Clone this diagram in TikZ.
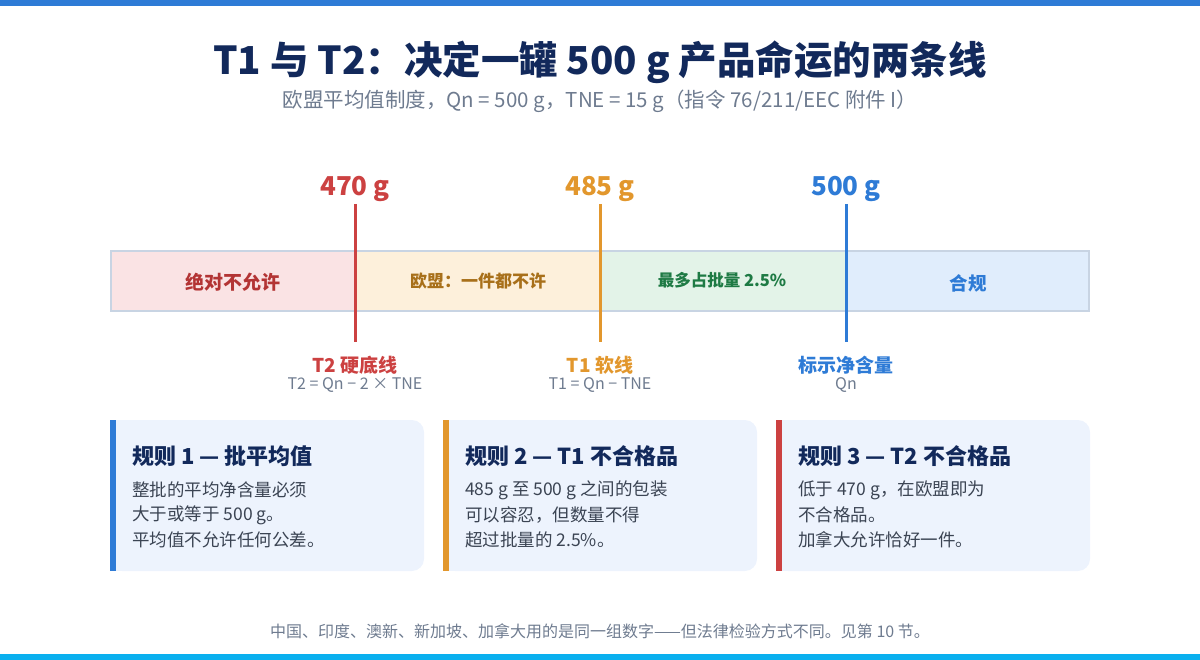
\documentclass[tikz,border=0pt]{standalone}
\usepackage{fontspec}
\setmainfont{Noto Sans CJK SC}
\usetikzlibrary{positioning}

\definecolor{navy}{HTML}{12295B}
\definecolor{subgray}{HTML}{6E7B8F}
\definecolor{bodygray}{HTML}{3B4453}
\definecolor{tred}{HTML}{CC4141}
\definecolor{torange}{HTML}{E2972D}
\definecolor{tblue}{HTML}{2E7BD6}
\definecolor{tcyan}{HTML}{0AB0EF}
\definecolor{redbg}{HTML}{FAE3E4}
\definecolor{orangebg}{HTML}{FDF0DB}
\definecolor{greenbg}{HTML}{E3F3E8}
\definecolor{bluebg}{HTML}{E0EDFC}
\definecolor{bandline}{HTML}{C8D4E3}
\definecolor{cardbg}{HTML}{EDF3FD}
\definecolor{reddark}{HTML}{B33434}
\definecolor{orangedark}{HTML}{A8701A}
\definecolor{greendark}{HTML}{1E7A44}

\newcommand{\fs}[1]{\fontsize{#1}{#1}\selectfont}

\tikzset{
  valuelabel/.style={font=\bfseries\fs{26}},
  marker/.style={line width=3pt},
  zonetext/.style={font=\bfseries\fs{17}},
  linename/.style={font=\bfseries\fs{19}},
  lineeq/.style={font=\fs{16}, text=subgray},
  cardtitle/.style={font=\bfseries\fs{22}, text=navy, anchor=west, inner xsep=0pt},
  cardbody/.style={font=\fs{17.5}, text=bodygray, anchor=west, inner xsep=0pt}
}

\begin{document}
\begin{tikzpicture}[x=1pt,y=-1pt]
\useasboundingbox (0,0) rectangle (1200,660);
\fill[tblue] (0,0) rectangle (1200,6);
\fill[tcyan] (0,654) rectangle (1200,660);

% title
\node[font=\bfseries\fs{38.5}, text=navy] (title) at (600,62) {T1 与 T2：决定一罐 500 g 产品命运的两条线};
\node[font=\fs{20.5}, text=subgray] (subtitle) at (600,101) {欧盟平均值制度，Qn = 500 g，TNE = 15 g（指令 76/211/EEC 附件 I）};

% band
\fill[redbg] (111,251) rectangle (355,311);
\fill[orangebg] (355,251) rectangle (600,311);
\fill[greenbg] (600,251) rectangle (846,311);
\fill[bluebg] (846,251) rectangle (1089,311);
\draw[bandline, line width=1.5pt] (111,251) rectangle (1089,311);

\node[zonetext, font=\bfseries\fs{19}, text=reddark] (zone1) at (233,282) {绝对不允许};
\node[zonetext, text=orangedark] (zone2) at (478,281) {欧盟：一件都不许};
\node[zonetext, font=\bfseries\fs{16.5}, text=greendark] (zone3) at (722,280) {最多占批量 2.5\%};
\node[zonetext, font=\bfseries\fs{18.5}, text=tblue] (zone4) at (968,283) {合规};

% markers
\foreach \x/\val/\col/\name/\eq/\id in {
  355/470 g/tred/T2 硬底线/T2 = Qn − 2 × TNE/t2,
  600/485 g/torange/T1 软线/T1 = Qn − TNE/t1,
  846/500 g/tblue/标示净含量/Qn/qn}{
  \node[valuelabel, text=\col] (\id val) at (\x,189) {\val};
  \coordinate (\id top) at (\x,204);
  \coordinate (\id bot) at (\x,342);
  \draw[marker, \col] (\id top) -- (\id bot);
  \node[linename, text=\col] (\id name) at (\x,365) {\name};
  \node[lineeq] (\id eq) at (\x,385) {\eq};
}

% cards
\foreach \x/\col/\id in {110/tblue/r1, 443/torange/r2, 776/tred/r3}{
  \fill[cardbg, rounded corners=12pt] (\x,420) rectangle (\x+314,571);
  \fill[cardbg] (\x,420) rectangle (\x+20,571);
  \fill[\col] (\x,420) rectangle (\x+6,571);
}

\node[cardtitle] (r1title) at (132,456) {规则 1 — 批平均值};
\node[cardbody] (r1a) at (132,490) {整批的平均净含量必须};
\node[cardbody] (r1b) at (132,515) {大于或等于 500 g。};
\node[cardbody] (r1c) at (132,540) {平均值不允许任何公差。};

\node[cardtitle] (r2title) at (465,456) {规则 2 — T1 不合格品};
\node[cardbody] (r2a) at (465,490) {485 g 至 500 g 之间的包装};
\node[cardbody] (r2b) at (465,515) {可以容忍，但数量不得};
\node[cardbody] (r2c) at (465,540) {超过批量的 2.5\%。};

\node[cardtitle] (r3title) at (798,456) {规则 3 — T2 不合格品};
\node[cardbody] (r3a) at (798,490) {低于 470 g，在欧盟即为};
\node[cardbody] (r3b) at (798,515) {不合格品。};
\node[cardbody] (r3c) at (798,540) {加拿大允许恰好一件。};

% footer
\node[font=\fs{16}, text=subgray] (footer) at (600,631) {中国、印度、澳新、新加坡、加拿大用的是同一组数字——但法律检验方式不同。见第 10 节。};
\end{tikzpicture}
\end{document}
